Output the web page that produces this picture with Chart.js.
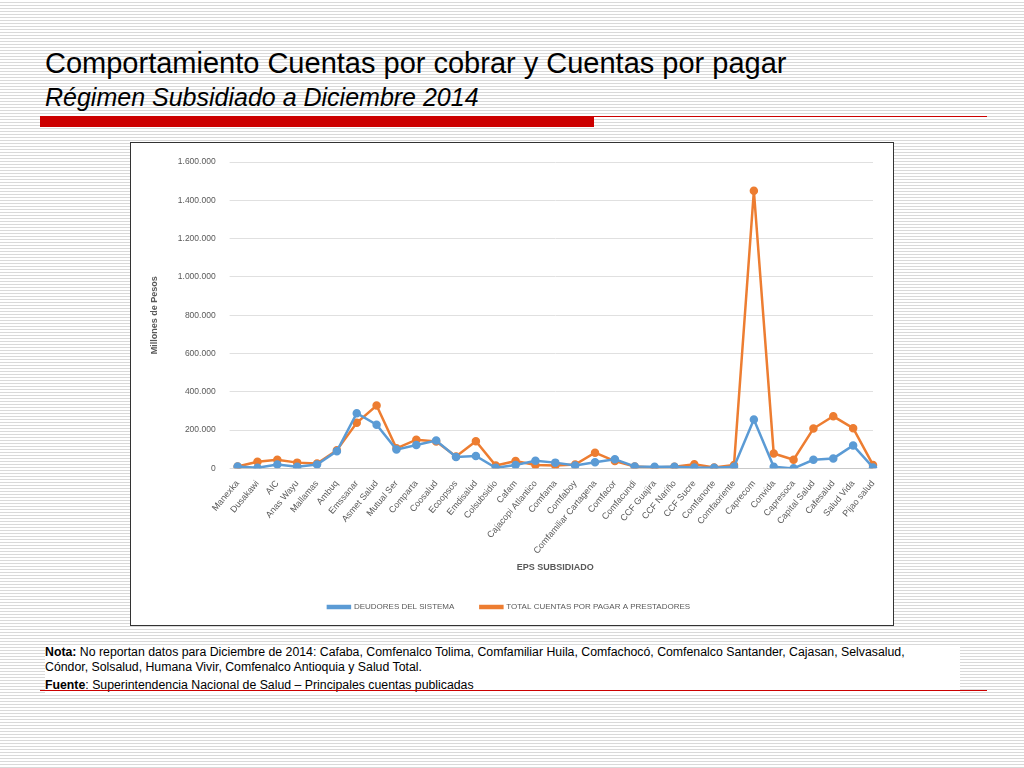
<!DOCTYPE html>
<html>
<head>
<meta charset="utf-8">
<title>Cuentas por cobrar y pagar</title>
<script src="https://cdn.jsdelivr.net/npm/chart.js"></script>
<style>
  body { margin:0; width:1024px; height:768px; font-family:"Liberation Sans", Arial, sans-serif; position:relative; overflow:hidden;
    background: repeating-linear-gradient(to bottom, #ffffff 0px, #ffffff 2px, #d9d9d9 2px, #d9d9d9 3px); }
  #t1 { position:absolute; left:45px; top:47px; font-size:29px; color:#000; }
  #t2 { position:absolute; left:45px; top:83px; font-size:25px; font-style:italic; color:#000; }
  #bar { position:absolute; left:40px; top:116px; width:554px; height:11px; background:#cc0000; }
  #line { position:absolute; left:594px; top:116px; width:393px; height:1px; background:#cc0000; }
  #box { position:absolute; left:130px; top:142px; width:762px; height:482px; background:#fff; border:1px solid #333; }
  #notes { position:absolute; left:45px; top:645px; width:915px; font-size:12.3px; line-height:15px; color:#000; background:#fff; }
  #bline { position:absolute; left:40px; top:690px; width:947px; height:1px; background:#cc0000; }
</style>
</head>
<body>
<div id="t1">Comportamiento Cuentas por cobrar y Cuentas por pagar</div>
<div id="t2">Régimen Subsidiado a Diciembre 2014</div>
<div id="bar"></div><div id="line"></div>
<div id="box"><canvas id="chart" width="762" height="482"></canvas></div>
<div id="notes"><b>Nota:</b> No reportan datos para Diciembre de 2014: Cafaba, Comfenalco Tolima, Comfamiliar Huila, Comfachocó, Comfenalco Santander, Cajasan, Selvasalud,<br>Cóndor, Solsalud, Humana Vivir, Comfenalco Antioquia y Salud Total.<br><div style="margin-top:3px"><b>Fuente</b>: Superintendencia Nacional de Salud – Principales cuentas publicadas</div></div>
<div id="bline"></div>
<script>
  const categories = ['Manexka','Dusakawi','AIC','Anas Wayu','Mallamas','Ambuq','Emssanar','Asmet Salud','Mutual Ser','Comparta','Coosalud','Ecoopsos','Emdisalud','Colsubsidio','Cafam','Cajacopi Atlantico','Comfama','Comfaboy','Comfamiliar Cartagena','Comfacor','Comfacundi','CCF Guajira','CCF Nariño','CCF Sucre','Comfanorte','Comfaoriente','Caprecom','Convida','Capresoca','Capital Salud','Cafesalud','Salud Vida','Pijao salud'];
  const deudores = [10000,3000,20000,8000,20000,90000,288000,228000,98000,122000,145000,60000,65000,3000,18000,40000,30000,15000,32000,48000,10000,8000,8000,5000,3000,8000,255000,8000,0,45000,52000,120000,5000];
  const totalPagar = [10000,35000,45000,30000,25000,95000,238000,328000,105000,150000,140000,62000,142000,15000,38000,18000,15000,20000,82000,38000,10000,5000,8000,22000,5000,18000,1450000,78000,45000,208000,272000,210000,18000];

  const fmt = v => v.toLocaleString('de-DE');
  new Chart(document.getElementById('chart'), {
    type: 'line',
    data: {
      labels: categories,
      datasets: [
        { label: 'DEUDORES DEL SISTEMA', data: deudores, borderColor: '#5b9bd5', backgroundColor: '#5b9bd5', borderWidth: 2.5, pointRadius: 3, tension: 0 },
        { label: 'TOTAL CUENTAS POR PAGAR A PRESTADORES', data: totalPagar, borderColor: '#ed7d31', backgroundColor: '#ed7d31', borderWidth: 2.5, pointRadius: 3, tension: 0 }
      ]
    },
    options: {
      responsive: false, animation: false,
      layout: { padding: { top: 8, right: 20, left: 14, bottom: 4 } },
      plugins: {
        legend: { position: 'bottom', labels: { boxWidth: 22, boxHeight: 2, font: { size: 8 }, color: '#595959', padding: 26 } }
      },
      scales: {
        x: { grid: { display: false }, ticks: { color: '#595959', font: { size: 9 }, maxRotation: 50, minRotation: 50, autoSkip: false, padding: 2 },
             title: { display: true, text: 'EPS SUBSIDIADO', color: '#595959', font: { size: 9, weight: 'bold' } } },
        y: { min: 0, max: 1600000, ticks: { stepSize: 200000, callback: fmt, color: '#595959', font: { size: 8.5 }, padding: 14 },
             grid: { color: '#e0e0e0' }, border: { display: false },
             title: { display: true, text: 'Millones de Pesos', color: '#595959', font: { size: 9, weight: 'bold' } } }
      }
    }
  });
</script>
</body>
</html>
